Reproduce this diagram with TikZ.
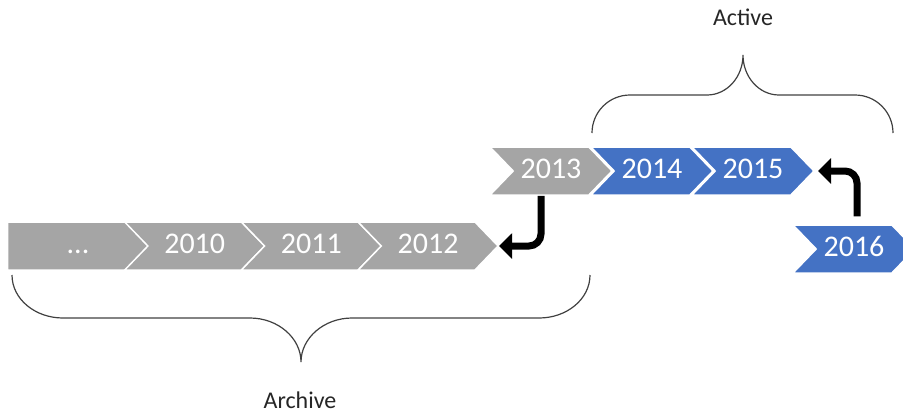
\documentclass[tikz,border=0pt]{standalone}
\usepackage{fontspec}
\setmainfont{Carlito}
\usetikzlibrary{arrows.meta, shapes.symbols}
\definecolor{archgray}{HTML}{A5A5A5}
\definecolor{activeblue}{HTML}{4472C4}
\definecolor{bracegray}{HTML}{404040}

\begin{document}
\begin{tikzpicture}[x=1pt, y=-1pt,
    chev/.style={signal, signal to=east, signal from=west, signal pointer angle=92, draw=white, line width=1.5pt, fill=archgray, text=white, minimum height=48pt, minimum width=140pt, inner sep=0pt, font=\fontsize{30}{36}\selectfont, text height=19pt, text depth=4pt},
    shortchev/.style={chev, minimum width=122pt},
    bluechev/.style={shortchev, fill=activeblue},
    jump/.style={line width=7pt, rounded corners=12pt, -{Triangle[length=13pt, width=25pt]}},
    bracket/.style={draw=bracegray, line width=1.2pt},
    grouplabel/.style={font=\fontsize{24}{29}\selectfont, text=black!85}
]
\useasboundingbox (0,0) rectangle (903,413);

% Archived years, lower row
\node[chev, signal from=nowhere, minimum width=152pt] (older) at (72,246) {\hspace*{12pt}...};
\foreach \yr [count=\i] in {2010,2011,2012} {
    \node[chev] (y\yr) at (78+\i*116.7,246) {\yr};
}

% Active years, upper row
\node[shortchev] (y2013) at (551,171) {2013};
\node[bluechev] (y2014) at (652,171) {2014};
\node[bluechev] (y2015) at (753,171) {2015};
\node[bluechev] (y2016) at (854,249) {2016};

% Moves between the rows
\draw[jump] ([xshift=-10pt]y2013.south) |- (y2012.east);
\draw[jump, shorten <=8pt, shorten >=3pt] ([xshift=3pt]y2016.north) |- (y2015.east);

% Braces
\draw[bracket] (592,133) .. controls (592,112) and (609,95) .. (630,95) -- (707,95)
    .. controls (727,95) and (743,77) .. (743,55)
    .. controls (743,77) and (759,95) .. (779,95) -- (855,95)
    .. controls (876,95) and (893,112) .. (893,133);
\draw[bracket] (12,275) .. controls (12,299) and (35,318) .. (63,318) -- (250,318)
    .. controls (278,318) and (301,338) .. (301,362)
    .. controls (301,338) and (324,318) .. (352,318) -- (539,318)
    .. controls (567,318) and (590,299) .. (590,275);

\node[grouplabel] (active) at (743,17) {Active};
\node[grouplabel] (archive) at (300,400) {Archive};

\end{tikzpicture}
\end{document}
